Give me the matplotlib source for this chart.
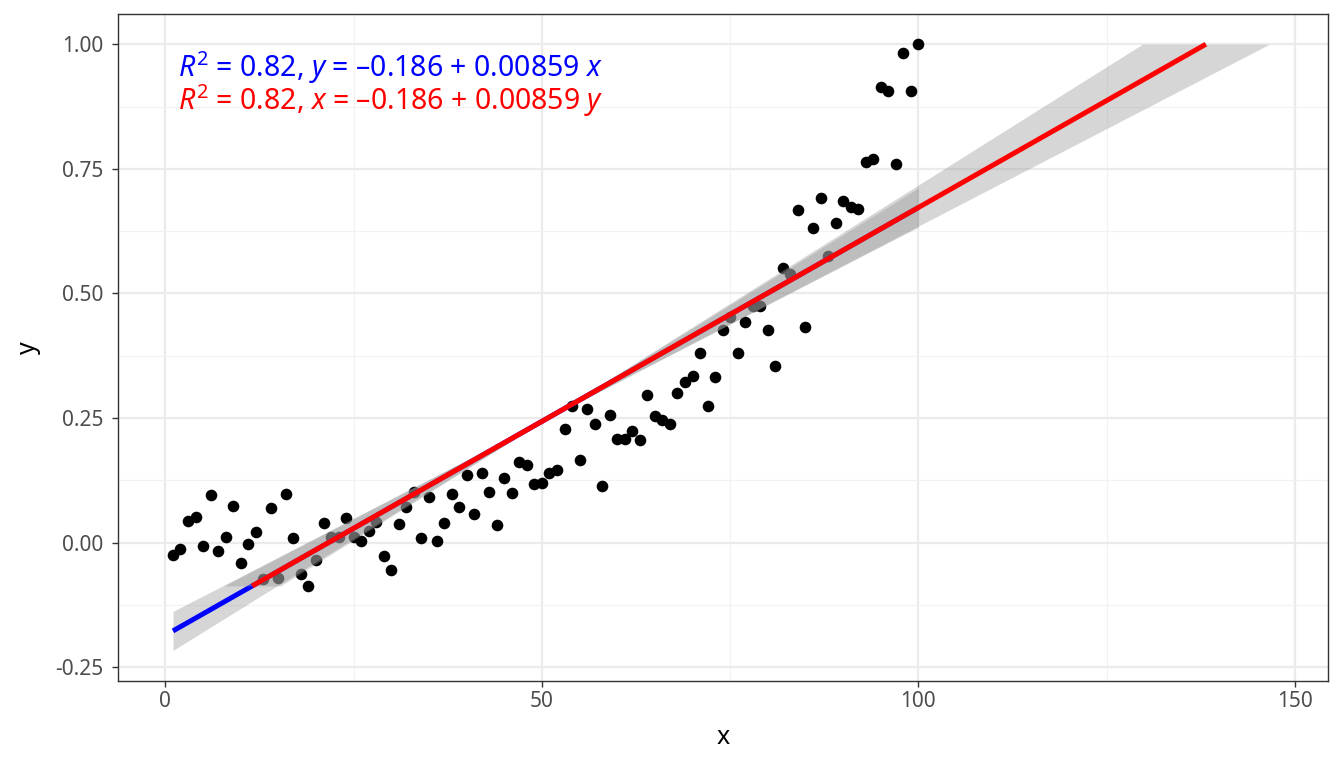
import matplotlib
matplotlib.use("Agg")
import matplotlib.pyplot as plt
import numpy as np

# ── Data ──────────────────────────────────────────────────────────────────────

x_vals = np.arange(1, 101)
y_vals = np.array([
    -0.025, -0.013, 0.043, 0.051, -0.007, 0.096, -0.017, 0.011, 0.073, -0.041,
    -0.003, 0.021, -0.073, 0.069, -0.071, 0.097, 0.009, -0.063, -0.087, -0.035,
    0.039, 0.011, 0.011, 0.049, 0.011, 0.003, 0.023, 0.041, -0.027, -0.055,
    0.037, 0.071, 0.101, 0.009, 0.091, 0.003, 0.039, 0.097, 0.071, 0.136,
    0.057, 0.140, 0.101, 0.035, 0.130, 0.099, 0.162, 0.156, 0.118, 0.120,
    0.140, 0.146, 0.228, 0.274, 0.166, 0.268, 0.238, 0.114, 0.256, 0.208,
    0.208, 0.224, 0.206, 0.296, 0.254, 0.246, 0.238, 0.300, 0.322, 0.334,
    0.381, 0.274, 0.332, 0.426, 0.452, 0.381, 0.442, 0.474, 0.474, 0.426,
    0.354, 0.551, 0.539, 0.667, 0.433, 0.631, 0.691, 0.575, 0.641, 0.685,
    0.673, 0.669, 0.764, 0.770, 0.914, 0.906, 0.760, 0.982, 0.906, 1.000,
])

label_blue = r"$R^2$ = 0.82, $y$ = –0.186 + 0.00859 $x$"
label_red = r"$R^2$ = 0.82, $x$ = –0.186 + 0.00859 $y$"

x_ticks = [0, 50, 100, 150]
y_ticks = [-0.25, 0.0, 0.25, 0.5, 0.75, 1.0]
y_tick_labels = ["-0.25", "0.00", "0.25", "0.50", "0.75", "1.00"]

# ── Style ─────────────────────────────────────────────────────────────────────

plt.rcParams.update({
    "font.family": ["Noto Sans", "DejaVu Sans"],
    "mathtext.fontset": "custom",
    "mathtext.rm": "Noto Sans",
    "mathtext.it": "Noto Sans:italic",
})

GRID_MAJOR = "#EBEBEB"
GRID_MINOR = "#F2F2F2"
BAND = "#999999"
BLUE = "#0000FF"
RED = "#FF0000"

# ── Fit (y ~ x) and bands ─────────────────────────────────────────────────────

slope, intercept = np.polyfit(x_vals, y_vals, 1)
xbar, ybar = x_vals.mean(), y_vals.mean()

# band widths as they appear in the reference: pinched near the centroid,
# opening up towards both ends
k_blue = 0.00079          # y-units of half-width per x-unit from centroid
k_red = 11.2              # x-units of half-width per y-unit from centroid

xg = np.linspace(x_vals.min(), x_vals.max(), 200)
yg = intercept + slope * xg
hw_y = k_blue * np.sqrt(2.0 ** 2 + (xg - xbar) ** 2)

yr = np.linspace(y_vals.min(), y_vals.max(), 200)
xr = (yr - intercept) / slope
hw_x = k_red * np.sqrt(0.02 ** 2 + (yr - ybar) ** 2)

# ── Plot ──────────────────────────────────────────────────────────────────────

fig = plt.figure(figsize=(13.44, 7.68), dpi=100)
ax = fig.add_axes([118 / 1344, 87 / 768, 1210 / 1344, 667 / 768])

ax.scatter(x_vals, y_vals, s=70, color="black", linewidths=0, zorder=3)

ax.fill_between(xg, yg - hw_y, yg + hw_y, color=BAND, alpha=0.4,
                linewidth=0, zorder=4)
ax.plot(xg, yg, color=BLUE, linewidth=3.6, solid_capstyle="butt", zorder=5)

ax.fill_betweenx(yr, xr - hw_x, xr + hw_x, color=BAND, alpha=0.4,
                 linewidth=0, zorder=6)
ax.plot(xr, yr, color=RED, linewidth=3.6, solid_capstyle="butt", zorder=7)

ax.text(0.05, 0.9055, label_blue, transform=ax.transAxes, color=BLUE,
        fontsize=20.5, ha="left", va="baseline", zorder=8)
ax.text(0.05, 0.856, label_red, transform=ax.transAxes, color=RED,
        fontsize=20.5, ha="left", va="baseline", zorder=8)

ax.set_xlim(-6.3, 154.4)
ax.set_ylim(-0.2777, 1.0606)

ax.set_xticks(x_ticks)
ax.set_xticklabels([str(v) for v in x_ticks])
ax.set_xticks([25, 75, 125], minor=True)
ax.set_yticks(y_ticks)
ax.set_yticklabels(y_tick_labels)
ax.set_yticks([-0.125, 0.125, 0.375, 0.625, 0.875], minor=True)

ax.grid(which="major", color=GRID_MAJOR, linewidth=1.6, zorder=0)
ax.grid(which="minor", color=GRID_MINOR, linewidth=0.9, zorder=0)
ax.set_axisbelow(True)

ax.tick_params(axis="both", which="major", length=4.5, width=1.0,
               color="#333333", labelcolor="#4D4D4D", labelsize=15)
ax.tick_params(axis="x", which="major", pad=3)
ax.tick_params(axis="y", which="major", pad=6)
ax.tick_params(axis="both", which="minor", length=0)
for sp in ax.spines.values():
    sp.set_color("#333333")
    sp.set_linewidth(1.0)

ax.set_xlabel("x", fontsize=18, labelpad=9)
ax.set_ylabel("y", fontsize=18, labelpad=10)

fig.savefig("out.png", dpi=100)
